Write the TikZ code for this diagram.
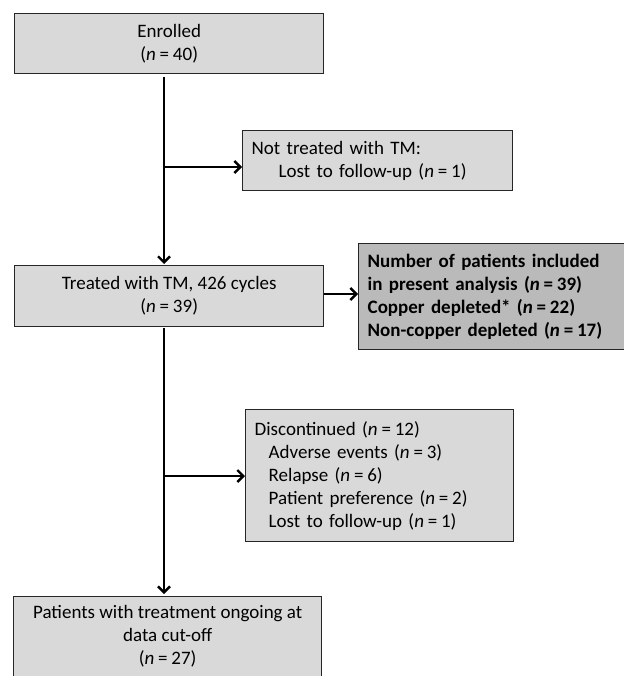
\documentclass[tikz,border=0pt]{standalone}
\usepackage{fontspec}
\setmainfont{Carlito}
\usetikzlibrary{arrows.meta}
\newcommand{\nn}[1]{\textit{n}\hspace{0.2em}=\hspace{0.2em}#1}
\begin{document}
\begin{tikzpicture}[x=1pt,y=-1pt,
  box/.style={draw=black!85, line width=1.4pt, fill=black!15, inner sep=0pt, anchor=north west,
    font=\fontsize{19}{23}\selectfont},
  darkbox/.style={box, fill=black!27},
  flow/.style={line width=2.4pt, -{Straight Barb[length=6pt,width=12pt,line width=2.4pt]}}]
\useasboundingbox (0,0) rectangle (623,676);
\node[box, minimum width=309pt, minimum height=60pt, align=center] (enr) at (14,13)
  {Enrolled\\(\nn{40})};
\node[box, minimum width=270pt, minimum height=60pt, text width=252pt, inner xsep=9pt, align=left] (nt) at (242,130)
  {Not treated with TM:\\\hspace*{27pt}Lost to follow-up (\nn{1})};
\node[box, minimum width=309pt, minimum height=61pt, align=center] (trt) at (14,265)
  {Treated with TM, 426 cycles\\(\nn{39})};
\node[darkbox, minimum width=268pt, minimum height=106pt, text width=254pt, inner xsep=9pt, align=left,
  font=\fontsize{19}{23}\selectfont\bfseries] (num) at (358,243)
  {Number of patients included\\in present analysis (\nn{39})\\Copper depleted* (\nn{22})\\Non-copper depleted (\nn{17})};
\node[box, minimum width=268pt, minimum height=132pt, text width=250pt, inner xsep=9pt, align=left] (dis) at (245,409)
  {Discontinued (\nn{12})\\\hspace*{14pt}Adverse events (\nn{3})\\\hspace*{14pt}Relapse (\nn{6})\\\hspace*{14pt}Patient preference (\nn{2})\\\hspace*{14pt}Lost to follow-up (\nn{1})};
\node[box, minimum width=308pt, minimum height=80pt, align=center] (pat) at (13,596)
  {Patients with treatment ongoing at\\data cut-off\\(\nn{27})};
\coordinate (b1) at (164,167);
\coordinate (b2) at (164,476);
\draw[flow] (164,77) -- (164,264);
\draw[flow] (b1) -- (nt.west |- b1);
\draw[flow] (trt.east |- 0,294) -- (num.west |- 0,294);
\draw[flow] (164,328) -- (164,594);
\draw[flow] (b2) -- (dis.west |- b2);
\end{tikzpicture}
\end{document}
